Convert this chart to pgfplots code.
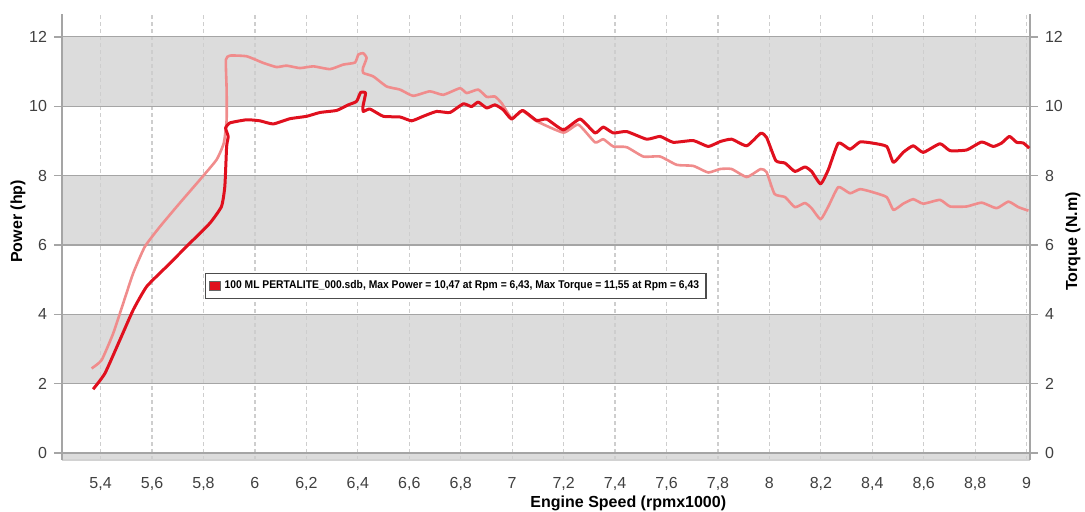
\documentclass[border=0pt]{standalone}
\usepackage{pgfplots}
\pgfplotsset{compat=1.18}
\usepackage{fontspec}
\setmainfont{Liberation Sans}
\usetikzlibrary{calc}
\definecolor{pcol}{RGB}{224,16,30}
\definecolor{tcol}{RGB}{240,140,140}
\definecolor{band}{RGB}{220,220,220}
\definecolor{gline}{RGB}{165,165,165}
\begin{document}
\begin{tikzpicture}
\pgfplotsset{set layers,
  myaxis/.style={
    scale only axis, width=484pt, height=223pt,
    xmin=5.25, xmax=9.013, ymin=-0.2, ymax=12.66,
    ytick={0,2,4,6,8,10,12},
    xtick={5.4,5.6,5.8,6,6.2,6.4,6.6,6.8,7,7.2,7.4,7.6,7.8,8,8.2,8.4,8.6,8.8,9},
    /pgf/number format/use comma,
    /pgf/number format/assume math mode=true,
    tick label style={font=\fontsize{8}{9}\selectfont, text=black!75},
    label style={font=\fontsize{8}{9}\selectfont\bfseries},
    tick align=outside,
    major tick length=4pt,
    y tick style={gline, line width=0.7pt},
    x tick style={draw=none},
  }}
\begin{axis}[myaxis,
  axis x line*=bottom, axis y line*=left,
  x axis line style={draw=gline!50, line width=0.6pt},
  y axis line style={draw=gline, line width=1.1pt},
  xmajorgrids, ymajorgrids,
  x grid style={gline!55, dash pattern=on 2pt off 1.5pt, line width=0.6pt},
  y grid style={gline, line width=0.6pt},
  ylabel={Power (hp)},
  ylabel style={at={(axis description cs:-0.0455,0.535)}, anchor=center},
  xlabel={Engine Speed (rpmx1000)},
  xlabel style={at={(axis description cs:0.585,-0.0964)}, anchor=center},
  xticklabel style={yshift=-1pt},
  legend style={at={(0.148,0.419)}, anchor=north west,
    font=\fontsize{5.6}{6.5}\selectfont\bfseries,
    draw=black!70, line width=0.6pt, inner sep=1.5pt, fill=white},
  legend cell align=left,
]
\begin{pgfonlayer}{axis background}
\fill[band] (axis cs:5.25,10) rectangle (axis cs:9.013,12);
\fill[band] (axis cs:5.25,6) rectangle (axis cs:9.013,8);
\fill[band] (axis cs:5.25,2) rectangle (axis cs:9.013,4);
\fill[band] (axis cs:5.25,-0.2) rectangle (axis cs:9.013,0);
\end{pgfonlayer}
\addplot[tcol, line width=1.3pt, line join=round, smooth, tension=0.3, forget plot] coordinates {
(5.365,2.44)(5.404,2.68)(5.449,3.45)(5.488,4.32)(5.527,5.19)(5.572,5.95)(5.631,6.53)(5.708,7.21)(5.786,7.88)(5.851,8.46)(5.879,8.94)(5.890,9.61)(5.890,10.48)(5.887,11.34)(5.903,11.46)(5.968,11.44)(6.032,11.25)(6.084,11.13)(6.123,11.17)(6.175,11.10)(6.227,11.15)(6.292,11.07)(6.343,11.20)(6.389,11.26)(6.402,11.49)(6.421,11.53)(6.434,11.39)(6.42,11.1)(6.421,10.96)(6.460,10.86)(6.512,10.57)(6.564,10.48)(6.615,10.30)(6.680,10.43)(6.732,10.33)(6.797,10.52)(6.823,10.38)(6.868,10.48)(6.901,10.27)(6.933,10.28)(6.959,10.09)(6.998,9.66)(7.040,9.86)(7.095,9.57)(7.199,9.24)(7.257,9.47)(7.322,8.96)(7.354,9.05)(7.393,8.84)(7.445,8.82)(7.510,8.55)(7.575,8.55)(7.640,8.31)(7.704,8.28)(7.762,8.09)(7.808,8.19)(7.853,8.19)(7.912,7.96)(7.966,8.19)(7.989,8.10)(8.020,7.47)(8.061,7.38)(8.099,7.09)(8.138,7.21)(8.164,7.06)(8.199,6.74)(8.229,7.11)(8.268,7.67)(8.313,7.49)(8.352,7.61)(8.398,7.53)(8.456,7.38)(8.482,7.01)(8.520,7.19)(8.559,7.32)(8.598,7.19)(8.663,7.30)(8.702,7.11)(8.767,7.11)(8.825,7.22)(8.883,7.06)(8.929,7.25)(8.968,7.09)(9.007,6.99)
};
\addplot[pcol, line width=1.5pt, line join=round, smooth, tension=0.3,
  legend image code/.code={\fill[pcol, draw=black!60, line width=0.4pt] (0pt,-2.2pt) rectangle (5.5pt,2.2pt);}] coordinates {
(5.371,1.84)(5.417,2.30)(5.475,3.26)(5.527,4.13)(5.579,4.80)(5.657,5.38)(5.747,6.05)(5.825,6.63)(5.870,7.11)(5.883,7.69)(5.890,8.84)(5.896,9.13)(5.886,9.37)(5.903,9.52)(5.968,9.61)(6.019,9.58)(6.071,9.49)(6.136,9.64)(6.201,9.71)(6.253,9.82)(6.318,9.88)(6.363,10.04)(6.395,10.14)(6.411,10.40)(6.43,10.38)(6.42,10.0)(6.421,9.85)(6.447,9.92)(6.499,9.71)(6.564,9.69)(6.609,9.58)(6.654,9.71)(6.706,9.85)(6.758,9.82)(6.810,10.07)(6.842,9.99)(6.868,10.12)(6.901,9.95)(6.933,10.04)(6.965,9.90)(6.998,9.63)(7.040,9.88)(7.095,9.59)(7.134,9.63)(7.199,9.32)(7.264,9.63)(7.322,9.23)(7.354,9.40)(7.393,9.23)(7.445,9.27)(7.523,9.05)(7.575,9.13)(7.626,8.96)(7.704,9.01)(7.762,8.84)(7.808,8.98)(7.853,9.05)(7.912,8.86)(7.966,9.22)(7.989,9.10)(8.025,8.43)(8.061,8.36)(8.099,8.12)(8.138,8.25)(8.164,8.12)(8.199,7.76)(8.229,8.17)(8.268,8.94)(8.313,8.76)(8.352,8.97)(8.398,8.94)(8.456,8.84)(8.482,8.38)(8.520,8.67)(8.559,8.86)(8.598,8.67)(8.663,8.92)(8.702,8.72)(8.767,8.74)(8.825,8.97)(8.870,8.84)(8.903,8.94)(8.933,9.13)(8.961,8.96)(8.987,8.94)(9.010,8.79)
};
\addlegendentry{\scalebox{0.92}[1]{100 ML PERTALITE\_000.sdb, Max Power = 10,47 at Rpm = 6,43, Max Torque = 11,55 at Rpm = 6,43}}
\end{axis}
\begin{axis}[myaxis,
  axis y line*=right, hide x axis,
  y axis line style={draw=gline, line width=1.1pt},
  ylabel={Torque (N.m)},
  ylabel style={at={(axis description cs:1.0444,0.49)}, anchor=center},
]
\addplot[draw=none, forget plot] coordinates {(6,0)};
\end{axis}
\pgfresetboundingbox
\path[use as bounding box] ($(current axis.south west)+(-31pt,-26pt)$) rectangle ($(current axis.north east)+(27.5pt,7pt)$);
\end{tikzpicture}
\end{document}
